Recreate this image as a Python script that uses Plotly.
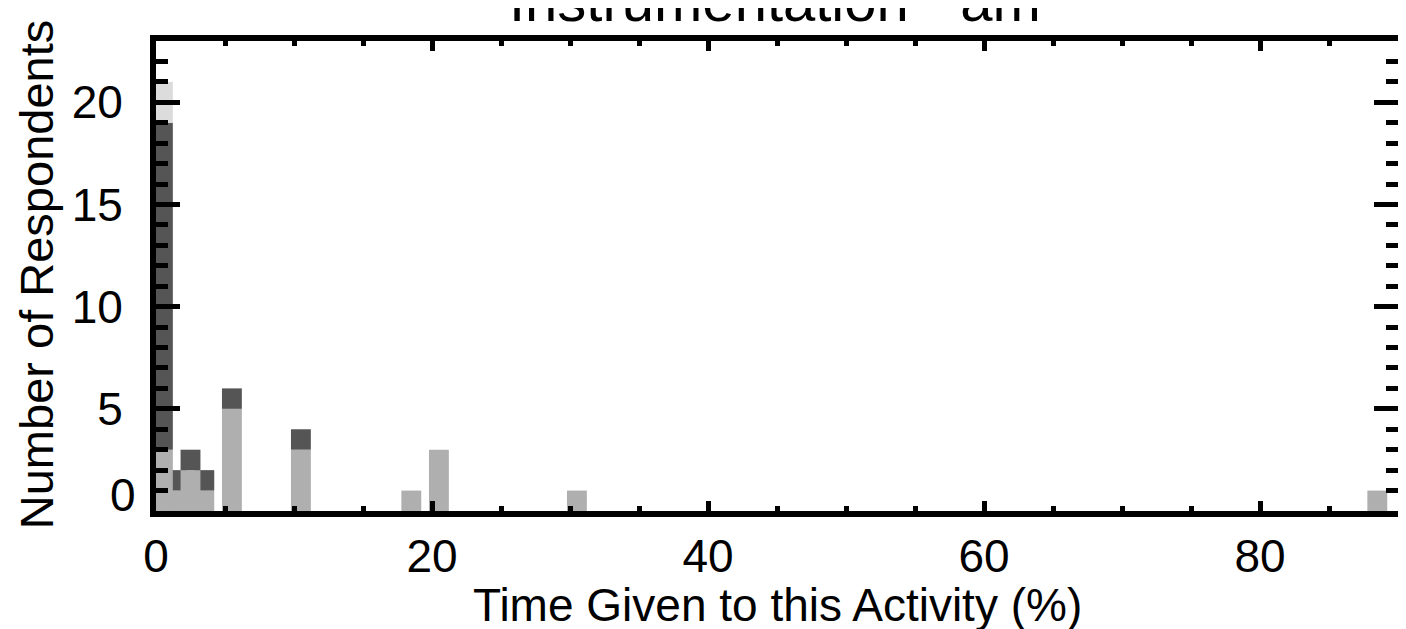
import plotly.graph_objects as go

# histogram of time given to instrumentation (am), three stacked groups
bin_centers = [0.5, 1.5, 2.5, 3.5, 5.5, 10.5, 18.5, 20.5, 30.5, 88.5]
group_low = [3, 1, 2, 1, 5, 3, 1, 3, 1, 1]     # mid grey, bottom of stack
group_mid = [16, 1, 1, 1, 1, 1, 0, 0, 0, 0]    # dark grey
group_top = [2, 0, 0, 0, 0, 0, 0, 0, 0, 0]     # light grey, top of stack

x_ticks = [0, 20, 40, 60, 80]
y_ticks = [5, 10, 15, 20]

colors = ["#afafaf", "#555555", "#dcdcdc"]
font = "Liberation Sans, Arial, Helvetica, sans-serif"
fsize = 46

fig = go.Figure()

# one trace per bin so overlapping bins are drawn shortest first
totals = [a + b + c for a, b, c in zip(group_low, group_mid, group_top)]
order = sorted(range(len(bin_centers)), key=lambda i: totals[i])
for i in order:
    segs = [group_low[i], group_mid[i], group_top[i]]
    bases = [0, group_low[i], group_low[i] + group_mid[i]]
    fig.add_trace(go.Bar(
        x=[bin_centers[i]] * 3,
        y=segs,
        base=bases,
        width=1.44,
        marker=dict(color=colors, line=dict(width=0)),
        showlegend=False,
        hoverinfo="skip",
    ))

fig.update_layout(
    barmode="overlay",
    width=1406,
    height=629,
    margin=dict(l=147.5, r=10, t=33, b=126),
    paper_bgcolor="white",
    plot_bgcolor="white",
    font=dict(family=font, size=fsize, color="black"),
)

fig.update_xaxes(
    range=[0, 90],
    tickvals=x_ticks,
    ticks="inside", ticklen=10, tickwidth=5, tickcolor="black",
    minor=dict(ticks="inside", dtick=5, ticklen=5, tickwidth=5, tickcolor="black"),
    showline=True, linewidth=6, linecolor="black", mirror="ticks",
    showgrid=False, zeroline=False,
    tickfont=dict(size=fsize),
)

fig.update_yaxes(
    range=[0, 23],
    tickvals=y_ticks,
    ticks="inside", ticklen=24, tickwidth=5, tickcolor="black",
    minor=dict(ticks="inside", dtick=1, ticklen=12, tickwidth=5, tickcolor="black"),
    showline=True, linewidth=6, linecolor="black", mirror="ticks",
    showgrid=False, zeroline=False,
    tickfont=dict(size=fsize),
    ticklabelstandoff=18,
)

txt = dict(family=font, size=fsize, color="black")

# the zero label sits a little above the corner, as in the original
fig.add_annotation(text="0", xref="paper", yref="y", x=0, y=0,
                   xanchor="right", yanchor="middle", xshift=-18, yshift=16,
                   showarrow=False, font=txt)

# titles placed by hand (the top one is clipped by the page edge in the original)
fig.add_annotation(text="Instrumentation - am", xref="paper", yref="paper",
                   x=0.4986, y=1.087, xanchor="center", yanchor="middle",
                   showarrow=False, font=dict(family=font, size=58, color="black"))
fig.add_annotation(text="Time Given to this Activity (%)", xref="paper", yref="paper",
                   x=0.5, y=-0.2, xanchor="center", yanchor="middle",
                   showarrow=False, font=txt)
fig.add_annotation(text="Number of Respondents", xref="paper", yref="paper",
                   x=-0.0965, y=0.502, xanchor="center", yanchor="middle",
                   textangle=-90, showarrow=False,
                   font=dict(family=font, size=47, color="black"))

fig.write_html("out.html")
